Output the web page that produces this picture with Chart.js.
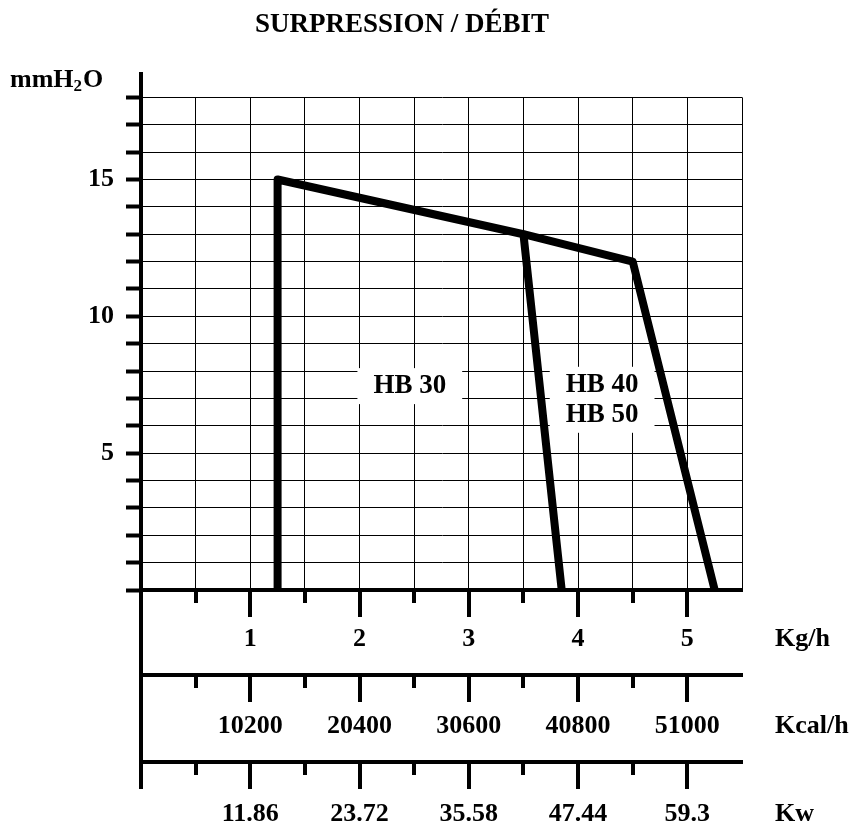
<!DOCTYPE html>
<html>
<head>
<meta charset="utf-8">
<title>Surpression / Débit</title>
<script src="https://cdn.jsdelivr.net/npm/chart.js@4.4.1/dist/chart.umd.min.js"></script>
<style>
  html, body { margin: 0; padding: 0; background: #fff; }
  canvas { display: block; }
</style>
</head>
<body>
<canvas id="chart" width="855" height="825"></canvas>
<script>
// curves (x in Kg/h, y in mmH2O)
const hb30X = [1.25, 1.25, 3.5, 3.85];
const hb30Y = [0, 15, 13, 0];
const hb4050X = [3.5, 4.5, 5.25];
const hb4050Y = [13, 12, 0];

// tick labels
const kgTicks = [1, 2, 3, 4, 5];
const kcalLabels = ['10200', '20400', '30600', '40800', '51000'];
const kwLabels = ['11.86', '23.72', '35.58', '47.44', '59.3'];
const yLabelled = [5, 10, 15];
const majorMarks = [0, 1, 2, 3, 4, 5];
const minorMarks = [0.5, 1.5, 2.5, 3.5, 4.5];

const SERIF = '"Liberation Serif", "Times New Roman", serif';
const tickFont = { family: SERIF, size: 26, weight: 'bold' };

const toPoints = (xs, ys) => xs.map((x, i) => ({ x: x, y: ys[i] }));

// stuff chart.js doesn't draw by itself: tick marks under the bottom scales,
// unit names, the y axis stub above the grid and the curve names
const extras = {
  id: 'extras',
  afterDatasetsDraw(chart) {
    const { ctx, chartArea: area, scales } = chart;
    ctx.save();
    ctx.strokeStyle = '#000';
    ctx.fillStyle = '#000';
    ctx.lineWidth = 4;

    ctx.beginPath();
    ctx.moveTo(area.left, 72);
    ctx.lineTo(area.left, area.top);
    ctx.moveTo(area.left, area.bottom);
    ctx.lineTo(area.left, scales.xKw.top + 27);
    ctx.stroke();

    const units = [['x', 'Kg/h'], ['xKcal', 'Kcal/h'], ['xKw', 'Kw']];
    units.forEach(([id, name]) => {
      const s = scales[id];
      ctx.beginPath();
      majorMarks.forEach(v => {
        const px = Math.round(s.getPixelForValue(v));
        ctx.moveTo(px, s.top);
        ctx.lineTo(px, s.top + 27);
      });
      minorMarks.forEach(v => {
        const px = Math.round(s.getPixelForValue(v));
        ctx.moveTo(px, s.top);
        ctx.lineTo(px, s.top + 13);
      });
      ctx.stroke();

      ctx.font = 'bold 26px ' + SERIF;
      ctx.textAlign = 'left';
      ctx.textBaseline = 'middle';
      ctx.fillText(name, area.right + 33, s.top + s.options.ticks.padding + 15.6);
    });

    // mmH2O
    ctx.textAlign = 'left';
    ctx.textBaseline = 'middle';
    ctx.font = 'bold 26px ' + SERIF;
    ctx.fillText('mmH', 10, 80);
    let w = ctx.measureText('mmH').width;
    ctx.font = 'bold 17px ' + SERIF;
    ctx.fillText('2', 10 + w, 87);
    w += ctx.measureText('2').width;
    ctx.font = 'bold 26px ' + SERIF;
    ctx.fillText('O', 11 + w, 80);

    // curve names on white boxes
    const names = [
      { x: 2.46, y: 7.45, lines: ['HB 30'] },
      { x: 4.22, y: 6.95, lines: ['HB 40', 'HB 50'] }
    ];
    ctx.font = 'bold 27px ' + SERIF;
    ctx.textAlign = 'center';
    names.forEach(n => {
      const cx = scales.x.getPixelForValue(n.x);
      const cy = scales.y.getPixelForValue(n.y);
      const tw = Math.max(...n.lines.map(l => ctx.measureText(l).width));
      const h = n.lines.length * 30 + 6;
      ctx.fillStyle = '#fff';
      ctx.fillRect(cx - tw / 2 - 16, cy - h / 2, tw + 32, h);
      ctx.fillStyle = '#000';
      n.lines.forEach((l, i) => {
        ctx.fillText(l, cx, cy + (i - (n.lines.length - 1) / 2) * 30);
      });
    });
    ctx.restore();
  }
};

new Chart(document.getElementById('chart'), {
  type: 'scatter',
  data: {
    datasets: [
      {
        label: 'HB 30',
        data: toPoints(hb30X, hb30Y),
        showLine: true,
        borderColor: '#000',
        borderWidth: 8,
        borderJoinStyle: 'round',
        pointRadius: 0,
        xAxisID: 'x',
        yAxisID: 'y'
      },
      {
        label: 'HB 40 / HB 50',
        data: toPoints(hb4050X, hb4050Y),
        showLine: true,
        borderColor: '#000',
        borderWidth: 8,
        borderJoinStyle: 'round',
        pointRadius: 0,
        xAxisID: 'x',
        yAxisID: 'y'
      }
    ]
  },
  options: {
    responsive: false,
    animation: false,
    devicePixelRatio: 1,
    layout: { padding: { left: 62, right: 113, top: 0, bottom: 0 } },
    plugins: {
      legend: { display: false },
      tooltip: { enabled: false },
      title: {
        display: true,
        text: 'SURPRESSION / DÉBIT',
        color: '#000',
        font: { family: SERIF, size: 27, weight: 'bold' },
        padding: { top: 9, bottom: 56 }
      }
    },
    scales: {
      y: {
        type: 'linear',
        position: 'left',
        min: 0,
        max: 18,
        afterFit: s => { s.width = 79; },
        ticks: {
          stepSize: 1,
          autoSkip: false,
          padding: 12,
          color: '#000',
          font: tickFont,
          callback: v => yLabelled.includes(v) ? String(v) : ''
        },
        grid: { color: '#000', lineWidth: 1, tickLength: 15, tickWidth: 4, tickColor: '#000' },
        border: { display: true, color: '#000', width: 4 }
      },
      x: {
        type: 'linear',
        position: 'bottom',
        weight: 0,
        min: 0,
        max: 5.5,
        afterFit: s => { s.height = 85; },
        ticks: {
          stepSize: 0.5,
          autoSkip: false,
          maxRotation: 0,
          padding: 34,
          color: '#000',
          font: tickFont,
          callback: v => kgTicks.includes(v) ? String(v) : ''
        },
        grid: { color: '#000', lineWidth: 1, drawTicks: false },
        border: { display: true, color: '#000', width: 4 }
      },
      xKcal: {
        type: 'linear',
        position: 'bottom',
        weight: 1,
        min: 0,
        max: 5.5,
        afterFit: s => { s.height = 87; },
        afterBuildTicks: s => { s.ticks = kgTicks.map(v => ({ value: v })); },
        ticks: {
          autoSkip: false,
          maxRotation: 0,
          padding: 36,
          color: '#000',
          font: tickFont,
          callback: (v, i) => kcalLabels[i]
        },
        grid: { display: false, drawTicks: false },
        border: { display: true, color: '#000', width: 4 }
      },
      xKw: {
        type: 'linear',
        position: 'bottom',
        weight: 2,
        min: 0,
        max: 5.5,
        afterFit: s => { s.height = 63; },
        afterBuildTicks: s => { s.ticks = kgTicks.map(v => ({ value: v })); },
        ticks: {
          autoSkip: false,
          maxRotation: 0,
          padding: 37,
          color: '#000',
          font: tickFont,
          callback: (v, i) => kwLabels[i]
        },
        grid: { display: false, drawTicks: false },
        border: { display: true, color: '#000', width: 4 }
      }
    }
  },
  plugins: [extras]
});
</script>
</body>
</html>
